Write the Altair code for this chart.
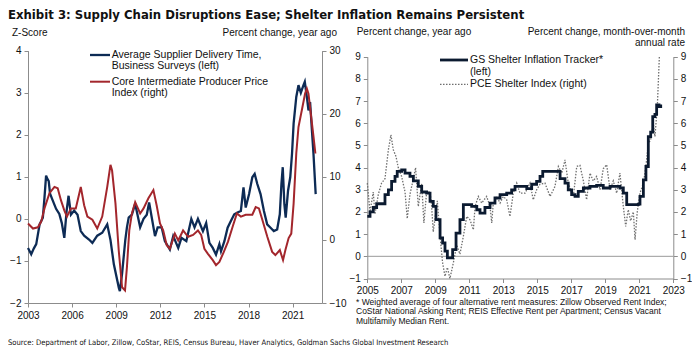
import altair as alt
import pandas as pd

# ---------------- data ----------------
# Left panel: Average Supplier Delivery Time, Business Surveys (z-score, left axis)
sup_year = [2003.00, 2003.22, 2003.40, 2003.56, 2003.79, 2004.01, 2004.12, 2004.23, 2004.32, 2004.41,
            2004.50, 2004.68, 2004.91, 2005.13, 2005.30, 2005.47, 2005.63, 2005.76, 2005.92, 2006.14,
            2006.37, 2006.59, 2006.82, 2007.15, 2007.38, 2007.71, 2008.05, 2008.39, 2008.61, 2008.84,
            2009.18, 2009.25, 2009.40, 2009.62, 2009.73, 2009.85, 2010.07, 2010.29, 2010.63, 2010.86,
            2011.08, 2011.24, 2011.46, 2011.64, 2011.82, 2012.09, 2012.31, 2012.65, 2012.88, 2013.22,
            2013.44, 2013.77, 2014.11, 2014.33, 2014.56, 2014.90, 2015.12, 2015.34, 2015.57, 2015.79,
            2016.02, 2016.13, 2016.36, 2016.58, 2016.80, 2017.03, 2017.25, 2017.48, 2017.66, 2017.81,
            2018.04, 2018.26, 2018.42, 2018.60, 2018.82, 2019.05, 2019.27, 2019.50, 2019.72, 2019.95,
            2020.13, 2020.24, 2020.33, 2020.44, 2020.53, 2020.69, 2020.84, 2020.96, 2021.07, 2021.25,
            2021.40, 2021.56, 2021.74, 2021.83, 2021.97, 2022.08, 2022.19, 2022.30, 2022.42, 2022.57]
sup_val = [-0.69, -0.84, -0.70, -0.60, -0.13, 0.03, 0.50, 1.03, 0.95, 0.90,
           0.60, 0.44, 0.24, 0.12, -0.10, -0.45, 0.20, 0.55, 0.10, 0.20,
           0.10, -0.29, -0.40, -0.49, -0.57, -0.40, -0.33, -0.13, -0.50, -1.08,
           -1.64, -1.72, -1.30, -0.50, -0.20, 0.03, 0.10, 0.36, -0.20, 0.00,
           0.10, 0.39, -0.05, -0.41, -0.20, -0.20, -0.53, -0.73, -0.41, -0.69,
           -0.45, -0.53, 0.00, -0.20, 0.00, -0.29, -0.10, -0.57, -0.69, -0.85,
           -0.60, -0.77, -0.53, -0.21, -0.05, 0.11, 0.15, 0.19, 0.75, 0.27,
           0.59, 0.99, 1.07, 0.83, 0.59, 0.19, -0.13, -0.21, -0.29, -0.25,
           0.11, 0.83, 1.23, 0.35, 0.03, 0.67, 0.99, 1.55, 2.27, 2.90,
           3.18, 3.00, 3.18, 3.26, 2.90, 2.58, 2.78, 2.18, 1.55, 0.59]

# Left panel: Core Intermediate Producer Price Index (% yoy, right axis)
ppi_year = [2003.00, 2003.34, 2003.67, 2003.90, 2004.12, 2004.46, 2004.80, 2005.02, 2005.24, 2005.47,
            2005.65, 2005.92, 2006.25, 2006.59, 2006.82, 2007.04, 2007.38, 2007.71, 2008.05, 2008.39,
            2008.61, 2008.72, 2008.95, 2009.17, 2009.40, 2009.60, 2009.73, 2009.89, 2010.07, 2010.29,
            2010.63, 2010.86, 2011.19, 2011.53, 2011.75, 2011.98, 2012.20, 2012.43, 2012.65, 2012.99,
            2013.22, 2013.55, 2013.89, 2014.23, 2014.56, 2014.78, 2015.00, 2015.24, 2015.57, 2015.79,
            2016.02, 2016.30, 2016.60, 2016.92, 2017.21, 2017.48, 2017.81, 2018.26, 2018.49, 2018.71,
            2018.94, 2019.28, 2019.61, 2019.83, 2020.13, 2020.35, 2020.51, 2020.73, 2020.91, 2021.07,
            2021.25, 2021.40, 2021.63, 2021.85, 2021.97, 2022.08, 2022.24, 2022.42, 2022.55]
ppi_val = [2.6, 1.8, 2.0, 2.9, 5.0, 7.4, 8.4, 8.2, 6.3, 4.7,
           3.7, 5.0, 5.0, 8.4, 5.5, 3.7, 3.2, 1.8, 3.7, 8.4,
           11.9, 11.0, 5.8, -1.6, -7.5, -8.0, -4.3, 1.5, 4.2, 6.0,
           4.2, 5.0, 6.6, 7.9, 5.5, 2.6, 1.5, -0.8, -1.4, 1.0,
           -0.1, 1.5, 0.5, 0.8, 1.5, 0.8, -1.4, -2.2, -3.2, -4.0,
           -3.5, -2.0, -0.3, 2.1, 4.2, 3.7, 4.0, 4.0, 5.2, 5.0,
           3.2, 0.5, -1.9, -2.4, -1.6, -3.2, -1.6, 0.3, 1.0, 5.8,
           13.7, 17.9, 20.6, 23.2, 24.0, 23.2, 20.0, 16.4, 13.7]

# Right panel: GS Shelter Inflation Tracker (% yoy, left axis)
gs_year = [2005.00, 2005.16, 2005.35, 2005.55, 2005.94, 2006.04, 2006.24, 2006.43, 2006.63, 2006.76,
           2007.02, 2007.22, 2007.51, 2007.71, 2008.00, 2008.20, 2008.49, 2008.69, 2008.88, 2009.04,
           2009.28, 2009.43, 2009.57, 2009.71, 2009.90, 2010.02, 2010.22, 2010.45, 2010.65, 2011.14,
           2011.44, 2011.63, 2011.92, 2012.22, 2012.51, 2012.81, 2013.20, 2013.49, 2013.69, 2014.08,
           2014.38, 2014.67, 2014.96, 2015.16, 2015.32, 2016.24, 2016.34, 2016.63, 2016.82, 2017.02,
           2017.22, 2017.41, 2017.71, 2018.10, 2018.49, 2018.88, 2019.28, 2019.67, 2019.86, 2020.06,
           2020.26, 2020.94, 2021.04, 2021.24, 2021.39, 2021.53, 2021.67, 2021.79, 2021.92, 2022.02,
           2022.16, 2022.26]
gs_val = [1.80, 2.00, 2.20, 2.37, 2.37, 2.78, 3.00, 3.38, 3.60, 3.83,
          3.90, 3.75, 3.60, 3.40, 3.15, 2.90, 2.85, 2.48, 2.25, 1.65,
          0.83, 0.60, 0.23, -0.07, -0.07, 0.30, 1.05, 1.65, 2.33, 2.25,
          2.10, 1.95, 2.20, 2.40, 2.63, 2.78, 2.85, 3.00, 3.15, 3.15,
          3.05, 3.25, 3.38, 3.60, 3.83, 3.83, 3.50, 3.30, 3.00, 2.78,
          2.70, 2.93, 3.08, 3.15, 3.20, 3.08, 3.15, 3.15, 3.08, 2.85,
          2.33, 2.35, 2.70, 3.45, 4.05, 5.40, 5.60, 6.30, 6.40, 6.83,
          6.75, 6.85]

# Right panel: PCE Shelter Index (% mom annual rate, right axis)
pce_year = [2005.00, 2005.16, 2005.35, 2005.45, 2005.65, 2005.84, 2006.04, 2006.24, 2006.39, 2006.53,
            2006.69, 2006.82, 2007.02, 2007.22, 2007.35, 2007.51, 2007.71, 2007.84, 2008.00, 2008.20,
            2008.33, 2008.49, 2008.69, 2008.78, 2008.88, 2009.12, 2009.28, 2009.43, 2009.57, 2009.71,
            2009.86, 2010.06, 2010.26, 2010.45, 2010.65, 2010.85, 2011.04, 2011.24, 2011.34, 2011.53,
            2011.73, 2012.02, 2012.22, 2012.32, 2012.41, 2012.61, 2012.81, 2013.00, 2013.20, 2013.39,
            2013.59, 2013.79, 2013.98, 2014.28, 2014.57, 2014.76, 2014.96, 2015.16, 2015.45, 2015.75,
            2016.04, 2016.24, 2016.44, 2016.63, 2016.82, 2017.12, 2017.32, 2017.51, 2017.71, 2017.90,
            2018.10, 2018.29, 2018.49, 2018.69, 2018.88, 2019.08, 2019.28, 2019.47, 2019.67, 2019.86,
            2020.06, 2020.20, 2020.35, 2020.49, 2020.65, 2020.75, 2020.88, 2021.04, 2021.24, 2021.39,
            2021.53, 2021.67, 2021.82, 2021.92, 2022.06, 2022.18]
pce_val = [3.30, 2.00, 2.90, 1.90, 2.80, 3.30, 3.50, 4.80, 5.48, 4.80,
           4.50, 4.00, 3.60, 2.90, 1.70, 2.80, 3.50, 4.00, 2.25, 3.30,
           1.50, 2.90, 2.90, 2.30, 1.10, 2.50, 0.90, -0.30, -0.90, -0.50,
           -1.00, -0.30, 0.50, 0.10, 0.90, 1.80, 1.65, 1.20, 2.25, 2.70,
           2.40, 2.70, 2.25, 1.50, 2.40, 2.70, 2.40, 2.70, 2.55, 1.80,
           2.85, 3.30, 2.85, 2.85, 3.30, 2.55, 3.00, 3.25, 3.30, 2.70,
           3.15, 4.05, 3.75, 4.35, 3.30, 2.70, 4.05, 4.10, 3.40, 2.55,
           3.75, 3.40, 3.60, 3.00, 3.95, 4.13, 3.00, 3.40, 2.85, 3.75,
           2.25, 1.35, 2.10, 1.60, 2.00, 0.75, 2.00, 2.85, 3.30, 4.05,
           5.10, 5.25, 6.00, 5.40, 6.75, 9.00]

left_x_ticks = [2003, 2006, 2009, 2012, 2015, 2018, 2021]
right_x_ticks = [2005, 2007, 2009, 2011, 2013, 2015, 2017, 2019, 2021, 2023]

# ---------------- layout ----------------
W, H = 684, 340
FONT = "Liberation Sans, Arial, Helvetica, sans-serif"
NARROW = "Liberation Sans Narrow, Arial Narrow, DejaVu Sans Condensed, sans-serif"

LX = [20, 314]        # left panel plot range (x)
LY = [295, 42.7]      # left panel plot range (y)
RX = [359.3, 665.3]   # right panel plot range (x)
RY = [270.5, 48.7]    # right panel plot range (y)


def ax(**kw):
    return alt.Axis(grid=False, domainColor="#8c8c8c", tickColor="#8c8c8c", tickSize=4,
                    labelPadding=3, labelFont=FONT, labelFontSize=10, labelColor="#111111",
                    title=None, labelFlush=False, labelOverlap=False, **kw)


sup_df = pd.DataFrame({"year": sup_year, "value": sup_val})
ppi_df = pd.DataFrame({"year": ppi_year, "value": ppi_val})
gs_df = pd.DataFrame({"year": gs_year, "value": gs_val})
pce_df = pd.DataFrame({"year": pce_year, "value": pce_val})
zero_df = pd.DataFrame({"x": [2005], "x2": [2023], "y": [0]})
one = pd.DataFrame({"k": [0]})

blue = alt.Chart(sup_df).mark_line(color="#0d2b55", strokeWidth=2.3).encode(
    x=alt.X("year:Q", scale=alt.Scale(domain=[2003, 2023], range=LX, nice=False, zero=False),
            axis=ax(orient="bottom", offset=LY[0] - H, values=left_x_ticks, format="d")),
    y=alt.Y("value:Q", scale=alt.Scale(domain=[-2, 4], range=LY, nice=False),
            axis=ax(orient="left", offset=-LX[0], values=[-2, -1, 0, 1, 2, 3, 4])),
)

red = alt.Chart(ppi_df).mark_line(color="#a3262c", strokeWidth=2.0).encode(
    x=alt.X("year:Q", scale=alt.Scale(domain=[2003, 2023], range=LX, nice=False, zero=False), axis=None),
    y=alt.Y("value:Q", scale=alt.Scale(domain=[-10, 30], range=LY, nice=False),
            axis=ax(orient="right", offset=LX[1] - W, values=[-10, 0, 10, 20, 30])),
)

zero = alt.Chart(zero_df).mark_rule(color="#9a9a9a", strokeWidth=1).encode(
    x=alt.X("x:Q", scale=alt.Scale(domain=[2005, 2023], range=RX, nice=False, zero=False), axis=None),
    x2="x2:Q",
    y=alt.Y("y:Q", scale=alt.Scale(domain=[-1, 9], range=RY, nice=False), axis=None),
)

pce = alt.Chart(pce_df).mark_line(color="#6f6f6f", strokeWidth=1.3, strokeDash=[1.5, 1.5]).encode(
    x=alt.X("year:Q", scale=alt.Scale(domain=[2005, 2023], range=RX, nice=False, zero=False), axis=None),
    y=alt.Y("value:Q", scale=alt.Scale(domain=[-1, 9], range=RY, nice=False),
            axis=ax(orient="right", offset=RX[1] - W, values=list(range(-1, 10)))),
)

gs = alt.Chart(gs_df).mark_line(color="#0b1a30", strokeWidth=2.8, interpolate="step-after").encode(
    x=alt.X("year:Q", scale=alt.Scale(domain=[2005, 2023], range=RX, nice=False, zero=False),
            axis=ax(orient="bottom", offset=RY[0] - H, values=right_x_ticks, format="d")),
    y=alt.Y("value:Q", scale=alt.Scale(domain=[-1, 9], range=RY, nice=False),
            axis=ax(orient="left", offset=-RX[0], values=list(range(-1, 10)))),
)


def txt(s, x, y, size=10.5, align="left", weight="normal", font=FONT, color="#111111"):
    return alt.Chart(one).mark_text(align=align, baseline="middle", fontSize=size, font=font,
                                    fontWeight=weight, color=color).encode(
        x=alt.value(x), y=alt.value(y), text=alt.value(s))


def sample(x1, x2, y, **style):
    return alt.Chart(one).mark_rule(**style).encode(x=alt.value(x1), x2=alt.value(x2), y=alt.value(y))


texts = [
    txt("Exhibit 3: Supply Chain Disruptions Ease; Shelter Inflation Remains Persistent", 0, 7,
        size=13, weight="bold", font=NARROW),
    txt("Z-Score", 4, 25, size=10),
    txt("Percent change, year ago", 329, 25, size=10, align="right"),
    txt("Percent change, year ago", 348.7, 24.3, size=10),
    txt("Percent change, month-over-month", 677, 24.3, size=10, align="right"),
    txt("annual rate", 677, 35.3, size=10, align="right"),
    # left legend
    sample(82, 102, 47, color="#0d2b55", strokeWidth=2.3),
    txt("Average Supplier Delivery Time,", 103.7, 47),
    txt("Business Surveys (left)", 103.7, 57.8),
    sample(82, 102, 73.7, color="#a3262c", strokeWidth=2.0),
    txt("Core Intermediate Producer Price", 103.7, 73.7),
    txt("Index (right)", 103.7, 84.5),
    # right legend
    sample(432, 460, 52, color="#0b1a30", strokeWidth=2.8),
    txt("GS Shelter Inflation Tracker*", 462, 52),
    txt("(left)", 462, 63.7),
    sample(432, 460, 76.3, color="#6f6f6f", strokeWidth=1.3, strokeDash=[1.5, 1.5]),
    txt("PCE Shelter Index (right)", 462, 76.3),
    # footnote
    txt("* Weighted  average of four alternative rent measures:  Zillow Observed Rent  Index;", 348, 293.7, size=8.5),
    txt("CoStar National  Asking Rent;  REIS  Effective Rent per Apartment;  Census Vacant", 348, 303.2, size=8.5),
    txt("Multifamily  Median  Rent.", 348, 312.7, size=8.5),
    # source
    txt("Source: Department of Labor, Zillow, CoStar, REIS, Census Bureau, Haver Analytics, Goldman Sachs Global Investment Research",
        0, 335, size=7.6, font=NARROW),
]

chart = alt.layer(blue, red, zero, pce, gs, *texts).resolve_scale(
    x="independent", y="independent"
).properties(
    width=W, height=H, padding=0, autosize=alt.AutoSizeParams(type="none")
).configure_view(stroke=None)

chart.save("out.html", embed_options={"renderer": "svg", "actions": False})
